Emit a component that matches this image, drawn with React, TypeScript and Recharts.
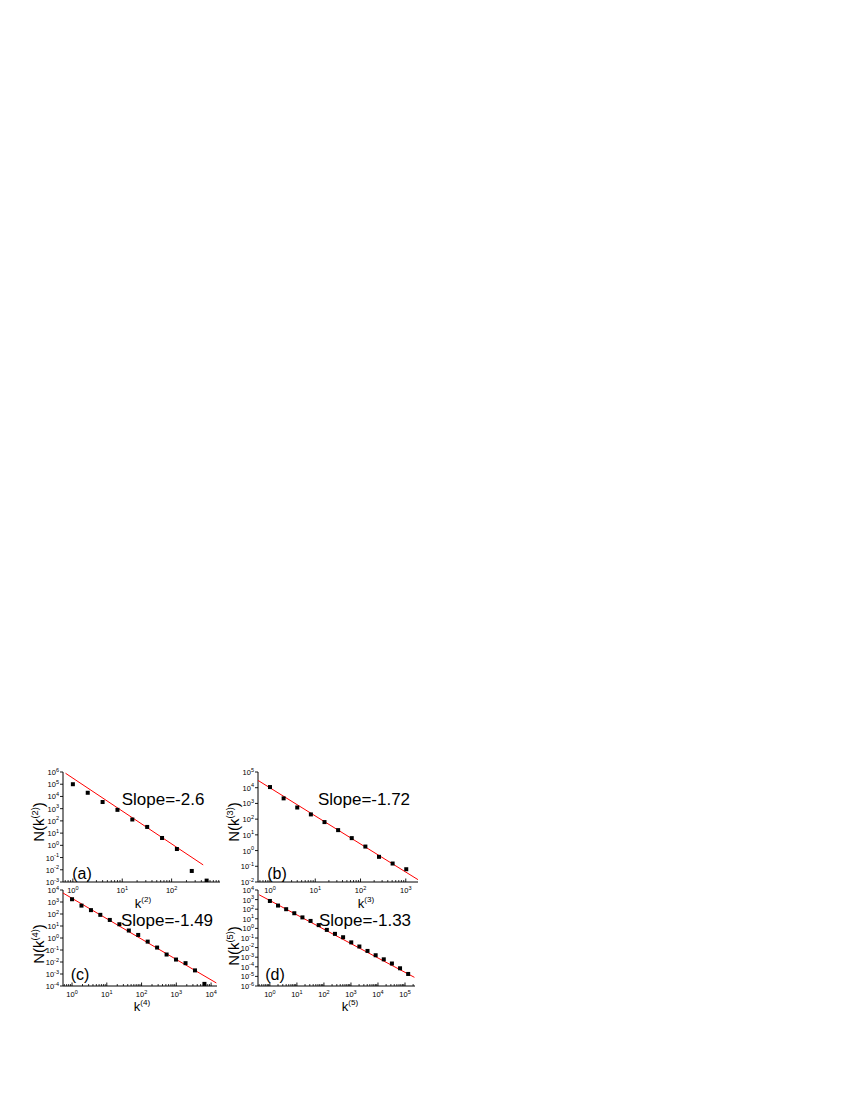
import React from 'react';
import { ScatterChart, Scatter, XAxis, YAxis } from 'recharts';

// ---------- data ----------
const kA = [1, 2, 4, 8, 16, 32, 64, 128, 256, 512];
const nA = [1.0e5, 2e4, 3.5e3, 800, 130, 32, 4, 0.5, 0.008, 0.0013];
const fitKA = [0.71, 436];
const fitNA = [7.9e5, 0.025];

const kB = [1, 2, 4, 8, 16, 32, 64, 128, 256, 512, 1024];
const nB = [1.1e4, 2100, 550, 200, 65, 20, 6.2, 1.8, 0.4, 0.15, 0.065];
const fitKB = [0.52, 1860];
const fitNB = [3.16e4, 0.0141];

const kC = [1, 1.87, 3.5, 6.5, 12.2, 23, 43, 80, 150, 280, 525, 980, 1840, 3440, 6430];
const nC = [1700, 500, 210, 85, 32, 14, 4.2, 1.8, 0.5, 0.16, 0.042, 0.016, 0.008, 0.002, 1.5e-4];
const fitKC = [0.55, 14125];
const fitNC = [5.6e3, 1.8e-4];

const kD = [1, 2, 4, 8, 16, 32, 64, 128, 256, 512, 1024, 2048, 4096, 8192, 16384, 32768, 65536, 131072];
const nD = [720, 240, 100, 38, 14, 6, 2.2, 0.7, 0.27, 0.12, 0.035, 0.013, 0.0045, 0.0016, 6e-4, 2.2e-4, 7e-5, 1.8e-5];
const fitKD = [0.4, 223000];
const fitND = [3.16e3, 8e-6];

const xTicksA = [1, 10, 100];
const yTicksA = [1e-3, 1e-2, 1e-1, 1, 10, 100, 1e3, 1e4, 1e5, 1e6];
const xTicksB = [1, 10, 100, 1000];
const yTicksB = [1e-2, 1e-1, 1, 10, 100, 1e3, 1e4, 1e5];
const xTicksC = [1, 10, 100, 1000, 10000];
const yTicksC = [1e-4, 1e-3, 1e-2, 1e-1, 1, 10, 100, 1e3, 1e4];
const xTicksD = [1, 10, 100, 1000, 10000, 100000];
const yTicksD = [1e-6, 1e-5, 1e-4, 1e-3, 1e-2, 1e-1, 1, 10, 100, 1e3, 1e4];

const FONT = '"Liberation Sans", Arial, Helvetica, sans-serif';

const zip = (ks: number[], ns: number[]) => ks.map((k, i) => ({ k, n: ns[i] }));

const withMinors = (majors: number[], domain: [number, number]) => {
  const out: number[] = [];
  const lo = Math.floor(Math.log10(domain[0]));
  const hi = Math.ceil(Math.log10(domain[1]));
  for (let d = lo; d <= hi; d++) {
    for (let m = 1; m <= 9; m++) {
      const v = m * Math.pow(10, d);
      if (v >= domain[0] && v <= domain[1]) {
        if (m === 1 && !majors.includes(v)) continue;
        out.push(v);
      }
    }
  }
  return out;
};

const isMajor = (v: number) => {
  const l = Math.log10(v);
  return Math.abs(l - Math.round(l)) < 1e-6;
};

const XTick = (props: any) => {
  const { x, y, payload } = props;
  const v = payload.value;
  if (!isMajor(v)) {
    return <line x1={x} x2={x} y1={y} y2={y - 2} stroke="#000" strokeWidth={0.8} />;
  }
  const e = Math.round(Math.log10(v));
  return (
    <g>
      <line x1={x} x2={x} y1={y} y2={y - 3.5} stroke="#000" strokeWidth={0.9} />
      <text x={x} y={y + 11} textAnchor="middle" fontSize={7.5} fontFamily={FONT} fill="#000">
        <tspan>10</tspan>
        <tspan dy={-3.5} fontSize={5.5}>{e}</tspan>
      </text>
    </g>
  );
};

const YTick = (props: any) => {
  const { x, y, payload } = props;
  const v = payload.value;
  const e = Math.round(Math.log10(v));
  return (
    <g>
      <line x1={x} x2={x - 3} y1={y} y2={y} stroke="#000" strokeWidth={0.9} />
      <text x={x - 4} y={y + 3} textAnchor="end" fontSize={7.5} fontFamily={FONT} fill="#000">
        <tspan>10</tspan>
        <tspan dy={-3.5} fontSize={5.5}>{e}</tspan>
      </text>
    </g>
  );
};

const Square = (p: any) => <rect x={p.cx - 2} y={p.cy - 2} width={4} height={4} fill="#000" />;
const NoShape = () => <g />;

type PanelProps = {
  left: number; top: number; w: number; h: number;
  xDomain: [number, number]; yDomain: [number, number];
  xTicks: number[]; yTicks: number[];
  pts: { k: number; n: number }[];
  fit: { k: number; n: number }[];
};

const Panel = ({ left, top, w, h, xDomain, yDomain, xTicks, yTicks, pts, fit }: PanelProps) => {
  const mT = 8, mR = 6, yW = 32, xH = 24;
  return (
    <div style={{ position: 'absolute', left: left - yW, top: top - mT }}>
      <ScatterChart width={w + yW + mR} height={h + mT + xH} margin={{ top: mT, right: mR, bottom: 0, left: 0 }}>
        <XAxis
          type="number" dataKey="k" scale="log" domain={xDomain} allowDataOverflow
          ticks={withMinors(xTicks, xDomain)} interval={0} tick={<XTick />}
          tickSize={0} tickMargin={0} tickLine={false} height={xH}
          axisLine={{ stroke: '#000', strokeWidth: 1 }}
        />
        <YAxis
          type="number" dataKey="n" scale="log" domain={yDomain} allowDataOverflow
          ticks={yTicks} interval={0} tick={<YTick />}
          tickSize={0} tickMargin={0} tickLine={false} width={yW}
          axisLine={{ stroke: '#000', strokeWidth: 1 }}
        />
        <Scatter data={fit} line={{ stroke: '#ff0000', strokeWidth: 1 }} shape={NoShape} isAnimationActive={false} />
        <Scatter data={pts} shape={Square} isAnimationActive={false} />
      </ScatterChart>
    </div>
  );
};

const Label = ({ x, y, size, children, rotate }: any) => (
  <div
    style={{
      position: 'absolute', left: x, top: y, fontFamily: FONT, fontSize: size, lineHeight: 1,
      whiteSpace: 'nowrap', color: '#000',
      transform: `translate(-50%, -50%)${rotate ? ' rotate(-90deg)' : ''}`,
    }}
  >
    {children}
  </div>
);

const Sup = ({ children }: any) => (
  <span style={{ fontSize: '0.62em', verticalAlign: 'super', lineHeight: 0 }}>{children}</span>
);

export default function App() {
  return (
    <div style={{ position: 'absolute', left: 0, top: 0, width: 850, height: 1100 }}>
      <Panel left={63} top={772} w={157} h={110}
        xDomain={[Math.pow(10, -0.2), Math.pow(10, 2.98)]} yDomain={[1e-3, 1e6]}
        xTicks={xTicksA} yTicks={yTicksA} pts={zip(kA, nA)} fit={zip(fitKA, fitNA)} />
      <Panel left={258} top={772} w={160} h={110}
        xDomain={[Math.pow(10, -0.265), Math.pow(10, 3.27)]} yDomain={[1e-2, 1e5]}
        xTicks={xTicksB} yTicks={yTicksB} pts={zip(kB, nB)} fit={zip(fitKB, fitNB)} />
      <Panel left={63} top={890} w={154} h={96}
        xDomain={[Math.pow(10, -0.26), Math.pow(10, 4.17)]} yDomain={[1e-4, 1e4]}
        xTicks={xTicksC} yTicks={yTicksC} pts={zip(kC, nC)} fit={zip(fitKC, fitNC)} />
      <Panel left={258} top={890} w={157} h={96}
        xDomain={[Math.pow(10, -0.44), Math.pow(10, 5.37)]} yDomain={[1e-6, 1e4]}
        xTicks={xTicksD} yTicks={yTicksD} pts={zip(kD, nD)} fit={zip(fitKD, fitND)} />

      <Label x={163} y={799} size={17}>Slope=-2.6</Label>
      <Label x={364} y={799} size={17}>Slope=-1.72</Label>
      <Label x={167} y={920} size={17}>Slope=-1.49</Label>
      <Label x={365} y={920} size={17}>Slope=-1.33</Label>

      <Label x={82} y={874} size={16}>(a)</Label>
      <Label x={277} y={874} size={16}>(b)</Label>
      <Label x={80} y={975} size={16}>(c)</Label>
      <Label x={275} y={975} size={16}>(d)</Label>

      <Label x={38} y={822} size={15} rotate>N(k<Sup>(2)</Sup>)</Label>
      <Label x={233} y={822} size={15} rotate>N(k<Sup>(3)</Sup>)</Label>
      <Label x={38} y={944} size={15} rotate>N(k<Sup>(4)</Sup>)</Label>
      <Label x={233} y={946} size={15} rotate>N(k<Sup>(5)</Sup>)</Label>

      <Label x={143} y={903} size={13}>k<Sup>(2)</Sup></Label>
      <Label x={366} y={903} size={13}>k<Sup>(3)</Sup></Label>
      <Label x={142} y={1006} size={13}>k<Sup>(4)</Sup></Label>
      <Label x={350} y={1006} size={13}>k<Sup>(5)</Sup></Label>
    </div>
  );
}
